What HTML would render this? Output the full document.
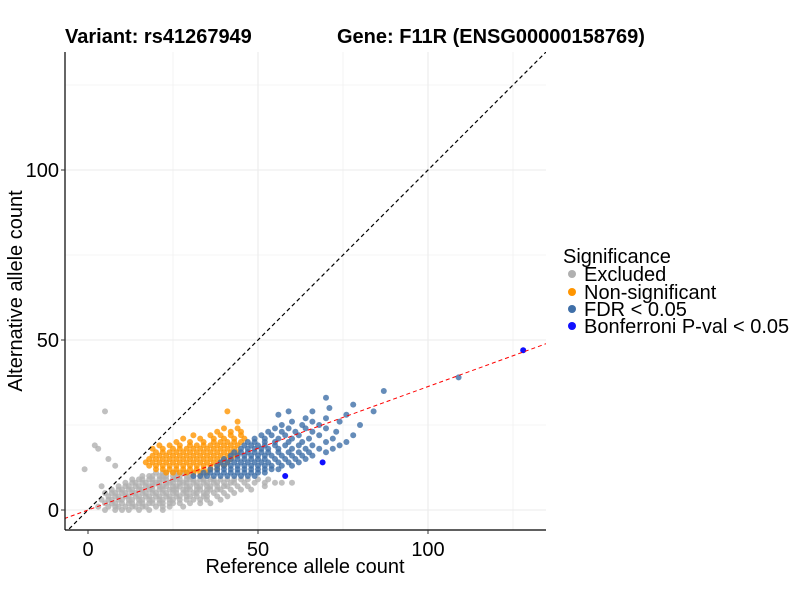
<!DOCTYPE html>
<html><head><meta charset="utf-8"><style>
body{margin:0;background:#fff;font-family:"Liberation Sans",Arial,sans-serif}
svg text{font-family:"Liberation Sans",Arial,sans-serif}
</style></head><body>
<svg id="chart" width="800" height="600">
<g id="grid"></g><g id="pts"></g>
</svg>
<script>
const xTicks=[0,50,100];
const yTicks=[0,50,100];
const grayRows=[[0,[5,8,10,12,15,18,22]],[1,[3,6,8,9,11,13,14,16,17,20,22,24,28]],[2,[5,7,8,10,12,13,15,16,18,19,21,22,24,25,27,30,33,36]],[3,[4,6,7,9,10,12,13,15,16,18,19,21,22,24,25,27,29,31,33,35,39]],[4,[6,8,9,11,12,14,15,17,18,20,21,23,24,26,27,29,30,32,34,35,38,41]],[5,[5,7,8,10,11,13,14,16,17,19,20,22,23,25,26,28,29,31,32,34,35,37,40,43]],[6,[7,9,10,12,13,15,16,18,19,21,22,24,25,26,28,29,30,32,33,35,36,38,39,42,45,48]],[7,[4,9,11,12,14,15,17,18,19,21,22,23,25,26,27,29,30,32,33,35,36,38,40,41,44,47,52]],[8,[11,13,14,16,17,19,20,21,23,24,25,27,28,29,31,32,34,35,37,38,40,42,43,46,49,52,55,57,60]],[9,[13,15,16,18,19,21,22,23,25,26,27,29,30,31,33,34,36,37,39,41,43,45,47,50,53]],[10,[16,18,19,21,22,23,25,26,27,29,30,31,33,34]],[11,[20,22,23,25,26,28,29,31]],[13,[8]],[15,[6]],[18,[3]],[19,[2]],[29,[5]],[12,[-1]]];
const orangeRows=[[11,[23,25,27,29,31,33,35]],[12,[20,22,24,26,28,30,32,34,36,38]],[13,[18,20,22,24,26,28,30,32,34,36,38,40]],[14,[17,19,21,23,25,27,29,31,33,35,37,39,41]],[15,[18,20,22,24,26,28,30,32,34,36,38,40,42]],[16,[19,21,23,25,27,29,31,33,35,37,39,41,43]],[17,[20,22,24,26,28,30,32,34,36,38,40,42,44]],[18,[19,22,25,27,29,31,33,35,37,39,41,43]],[19,[21,24,27,30,32,34,36,38,40,42,44]],[20,[26,30,34,37,39,41,43,45]],[21,[28,33,37,40,43,46]],[22,[31,36,39,42,45]],[23,[38,42,45]],[24,[40,44]],[26,[44]],[29,[41]]];
const steelRows=[[10,[31,33,35,37,39,41,43,45,47,49]],[11,[34,36,38,40,42,44,46,48,50,52]],[12,[36,38,40,42,44,46,48,50,52,54,56]],[13,[38,40,42,44,46,48,50,52,54,57,60]],[14,[39,41,43,45,47,49,51,53,56,59,62]],[15,[40,42,44,46,48,50,52,55,58,61,64]],[16,[42,44,46,48,50,52,54,57,60,63,66]],[17,[43,45,47,49,51,53,56,59,62,65,70]],[18,[45,47,49,51,53,56,60,64,68,72]],[19,[46,48,50,52,55,58,62,66,74]],[20,[47,49,52,55,59,63,70,76]],[21,[49,52,56,60,65,72]],[22,[51,54,58,62,68,78]],[23,[53,57,61,66,73]],[24,[55,59,64,70]],[25,[57,63,68,80]],[26,[60,66,74]],[27,[64,70]],[28,[56,76]],[29,[59,66,84]],[30,[71]],[31,[78]],[33,[70]],[35,[87]],[39,[109]]];
const bonfX=[58,69,128];
const bonfY=[10,14,47];
const X0=88,Y0=510,K=3.4;
const sx=v=>X0+v*K, sy=v=>Y0-v*K;
const L=65,R=546,T=52,B=530;
const NS="http://www.w3.org/2000/svg";
const svg=document.getElementById('chart'),grid=document.getElementById('grid'),pts=document.getElementById('pts');
function mk(tag,attrs,parent){const e=document.createElementNS(NS,tag);for(const k in attrs)e.setAttribute(k,attrs[k]);(parent||svg).appendChild(e);return e;}
[25,50,75,100,125].forEach(v=>{
 let a=mk('line',{x1:sx(v),x2:sx(v),y1:T,y2:B,stroke:'#ebebeb','stroke-width':v%50?0.6:1.1},grid);
 
});
[0,25,50,75,100,125].forEach(v=>{
 let a=mk('line',{x1:L,x2:R,y1:sy(v),y2:sy(v),stroke:'#ebebeb','stroke-width':v%50?0.6:1.1},grid);
 
});
function drawRows(rows,color,name){rows.forEach(r=>r[1].forEach(x=>{
 const c=mk('circle',{cx:sx(x),cy:sy(r[0]),r:3,fill:color,'fill-opacity':0.8},pts);
 }));}
drawRows(grayRows,'#b0b0b0','point-excluded');
drawRows(orangeRows,'#ff9500','point-non-significant');
drawRows(steelRows,'#3f6fa8','point-fdr');
bonfX.forEach((x,i)=>{const c=mk('circle',{cx:sx(x),cy:sy(bonfY[i]),r:3,fill:'#1010ff'},pts);
 });
const defs=mk('clipPath',{id:'clip'});mk('rect',{x:L,y:T,width:R-L,height:B-T},defs);
let d1=mk('line',{x1:sx(-7),y1:sy(-7),x2:sx(135),y2:sy(135),stroke:'#000','stroke-width':1.2,'stroke-dasharray':'4,3','clip-path':'url(#clip)'});

let d2=mk('line',{x1:sx(-7),y1:sy(-7*0.363),x2:sx(135),y2:sy(135*0.363),stroke:'#f00','stroke-width':1,'stroke-dasharray':'4,3','clip-path':'url(#clip)'});

let ax=mk('line',{x1:L,x2:L,y1:T,y2:B,stroke:'#000','stroke-width':1.2});
let bx=mk('line',{x1:L,x2:R,y1:B,y2:B,stroke:'#000','stroke-width':1.2});
xTicks.forEach(v=>{mk('line',{x1:sx(v),x2:sx(v),y1:B,y2:B+4,stroke:'#333'});
 const t=mk('text',{x:sx(v),y:556,'font-size':20,'text-anchor':'middle',fill:'#000'});t.textContent=v;
 });
yTicks.forEach(v=>{mk('line',{x1:L-4,x2:L,y1:sy(v),y2:sy(v),stroke:'#333'});
 const t=mk('text',{x:L-6,y:sy(v)+7,'font-size':20,'text-anchor':'end',fill:'#000'});t.textContent=v;
 });
</script>
<svg style="position:absolute;left:0;top:0" width="800" height="600">
<text x="65" y="43" font-size="20" font-weight="bold">Variant: rs41267949</text>
<text x="337" y="43" font-size="20" font-weight="bold">Gene: F11R (ENSG00000158769)</text>
<text x="305" y="573" font-size="20" text-anchor="middle">Reference allele count</text>
<text transform="translate(22,291) rotate(-90)" font-size="20" text-anchor="middle">Alternative allele count</text>
<g font-size="20">
<text x="563" y="263">Significance</text>
<circle cx="572" cy="274" r="4" fill="#b0b0b0"/><text x="584" y="281">Excluded</text>
<circle cx="572" cy="292" r="4" fill="#ff9500"/><text x="584" y="299">Non-significant</text>
<circle cx="572" cy="309" r="4" fill="#3f6fa8"/><text x="584" y="316">FDR &lt; 0.05</text>
<circle cx="572" cy="326" r="4" fill="#1010ff"/><text x="584" y="333">Bonferroni P-val &lt; 0.05</text>
</g>
</svg>
</body></html>
